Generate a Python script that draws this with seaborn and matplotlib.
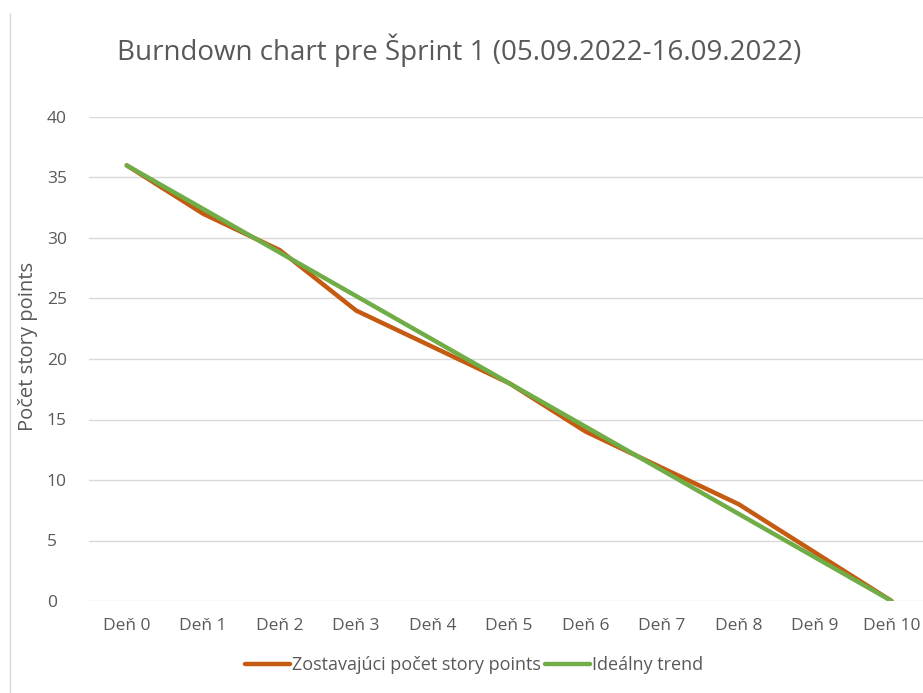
import matplotlib.pyplot as plt
import seaborn as sns
import pandas as pd

# Dáta
dni = ['Deň 0', 'Deň 1', 'Deň 2', 'Deň 3', 'Deň 4', 'Deň 5',
       'Deň 6', 'Deň 7', 'Deň 8', 'Deň 9', 'Deň 10']
zostavajuci = [36, 32, 29, 24, 21, 18, 14, 11, 8, 4, 0]
idealny = [36, 32.4, 28.8, 25.2, 21.6, 18, 14.4, 10.8, 7.2, 3.6, 0]

serie = ['Zostavajúci počet story points', 'Ideálny trend']

ds = pd.DataFrame({
    'den': list(range(len(dni))) * 2,
    'body': zostavajuci + idealny,
    'seria': [serie[0]] * len(dni) + [serie[1]] * len(dni),
})

# Nastavenia vizualizácie
sns.set_style("whitegrid")
plt.rcParams['font.family'] = ['Open Sans', 'DejaVu Sans']

fig = plt.figure(figsize=(9.23, 6.93), dpi=100)
ax = fig.add_axes([88.5 / 923, 92 / 693, (923 - 88.5) / 923, 484 / 693])

sns.lineplot(data=ds, x='den', y='body', hue='seria', hue_order=serie,
             palette=['#C55A11', '#70AD47'], linewidth=3.2, ax=ax, legend=False,
             solid_capstyle='round')

# Osi
ax.set_xlim(-0.5, 10.41)
ax.set_ylim(0, 40)
ax.set_xticks(range(len(dni)))
ax.set_xticklabels(dni)
ax.set_yticks(range(0, 41, 5))
ax.tick_params(axis='both', length=0, labelsize=12.5, labelcolor='#595959')
ax.tick_params(axis='x', pad=12)
ax.tick_params(axis='y', pad=30)
for t in ax.get_yticklabels():
    t.set_horizontalalignment('left')
ax.grid(axis='x', visible=False)
ax.grid(axis='y', color='#D9D9D9', linewidth=1)
for s in ax.spines.values():
    s.set_visible(False)
ax.set_xlabel('')
ax.set_ylabel('Počet story points', fontsize=14.5, color='#595959')
ax.yaxis.set_label_coords(-50 / 834.5, 0.526)

fig.text(459 / 923, 1 - 50 / 693, 'Burndown chart pre Šprint 1 (05.09.2022-16.09.2022)',
         ha='center', va='center', fontsize=20, color='#595959')

# Legenda
handles = [plt.Line2D([], [], color='#C55A11', linewidth=3.2),
           plt.Line2D([], [], color='#70AD47', linewidth=3.2)]
fig.legend(handles, serie, loc='center', bbox_to_anchor=(474 / 923, 1 - 665 / 693),
           ncol=2, frameon=False, fontsize=13, labelcolor='#595959',
           handlelength=2.5, handletextpad=0.1, columnspacing=0.2)

# Ľavý okraj rámu grafu
fig.add_artist(plt.Line2D([10 / 923, 10 / 923], [0, 1 - 13 / 693],
                          transform=fig.transFigure, color='#D9D9D9', linewidth=1))

plt.savefig('out.png', dpi=100)
